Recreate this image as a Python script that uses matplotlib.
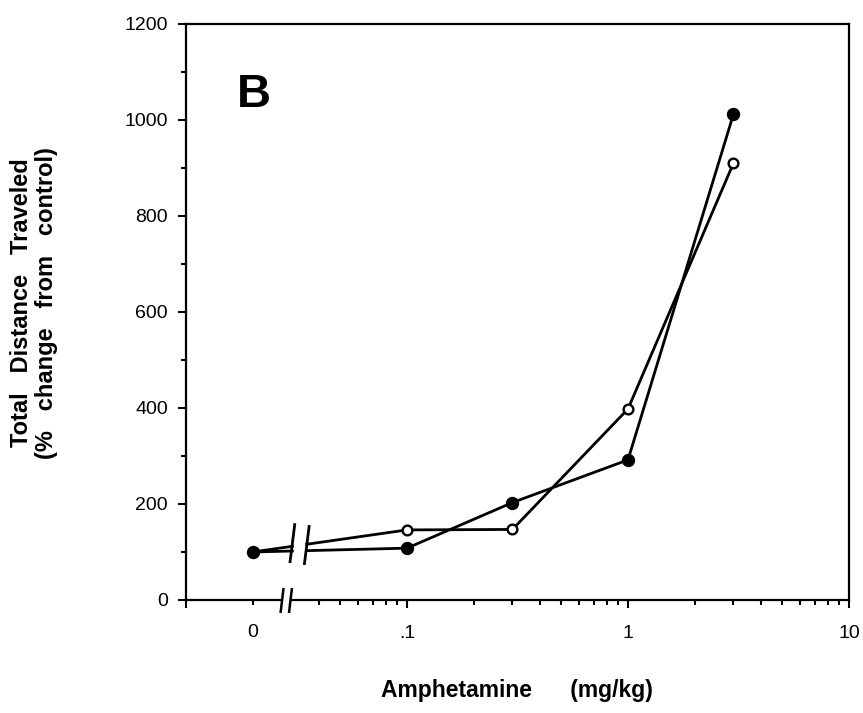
import numpy as np
import matplotlib.pyplot as plt

plt.rcParams['font.family'] = 'Liberation Sans'

# amphetamine dose (mg/kg); the 0 dose sits at 0.02 on the log axis
dose = np.array([0.02, 0.1, 0.3, 1.0, 3.0])
tick_labels = ['', '.1', '1', '10']
filled = np.array([100, 108, 203, 292, 1012])
opened = np.array([100, 146, 147, 398, 910])

fig = plt.figure(figsize=(8.63, 7.13), dpi=100)
ax = fig.add_axes([186 / 863, 113 / 713, 663 / 863, 576 / 713])
ax.set_xscale('log')
ax.set_xlim(0.01, 10)
ax.set_ylim(0, 1200)

# gap in the lines between the 0 dose and the rest
gap_lo, gap_hi = 0.0303, 0.0352


def broken_line(y, **kw):
    lx = np.log10(dose)
    yat = lambda x: np.interp(np.log10(x), lx, y)
    ax.plot([dose[0], gap_lo], [y[0], yat(gap_lo)], **kw)
    ax.plot(np.r_[gap_hi, dose[1:]], np.r_[yat(gap_hi), y[1:]], **kw)


def slash(xc, y0, y1, lean, lw=2.0):
    ax.plot([xc / lean, xc * lean], [y0, y1], color='black', lw=lw,
            clip_on=False, zorder=6, solid_capstyle='butt')


broken_line(opened, color='black', lw=2.0, zorder=3)
broken_line(filled, color='black', lw=2.0, zorder=3)
ax.plot(dose, opened, 'o', mfc='white', mec='black', ms=7, mew=1.7, zorder=4)
ax.plot(dose, filled, 'o', color='black', ms=8.6, zorder=5)

# break marks across the lines
lean = 10 ** (2.5 / 221)
slash(gap_lo, 77, 160, lean)
slash(gap_hi, 73, 156, lean)

# break marks on the x axis
ax.plot([0.0275, 0.0293], [0, 0], color='white', lw=3, clip_on=False, zorder=5)
lean = 10 ** (1.5 / 221)
slash(0.0272, -27, 25, lean, lw=1.8)
slash(0.0297, -27, 25, lean, lw=1.8)

ax.set_xticks([0.01, 0.1, 1, 10], tick_labels)
minor = [0.02] + [k * 0.01 for k in range(4, 10)] + \
    [k * 0.1 for k in range(2, 10)] + list(range(2, 10))
ax.set_xticks(minor, ['0'] + [''] * (len(minor) - 1), minor=True)
ax.set_yticks(range(0, 1201, 200))
ax.set_yticks(range(100, 1200, 200), minor=True)

ax.tick_params(which='major', direction='out', length=6, width=1.5,
               labelsize=14, color='black')
ax.tick_params(which='minor', direction='out', length=3.5, width=1.5,
               labelsize=14, color='black')
ax.tick_params(axis='x', which='major', pad=12)
ax.tick_params(axis='x', which='minor', pad=14)
ax.tick_params(axis='y', which='both', pad=7)
for s in ax.spines.values():
    s.set_linewidth(1.6)

ax.text(0.077, 0.877, 'B', transform=ax.transAxes, ha='left', va='center',
        fontsize=34, fontweight='bold')

fig.text(517 / 863, 1 - 690 / 713, 'Amphetamine      (mg/kg)', ha='center',
         va='center', fontsize=16.5, fontweight='bold')
fig.text(34 / 863, 1 - 303 / 713,
         'Total   Distance   Traveled\n(%   change   from   control)',
         rotation=90, ha='center', va='center', fontsize=17,
         fontweight='bold', linespacing=1.15, multialignment='center')

fig.savefig('out.png', dpi=100)
